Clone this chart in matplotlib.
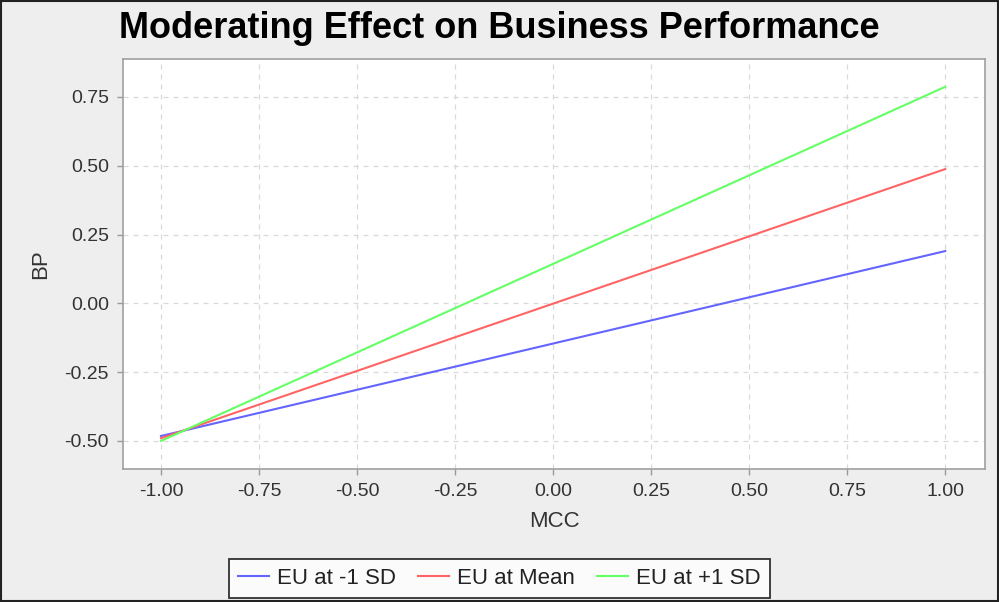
import matplotlib.pyplot as plt
import matplotlib.patches as patches
import numpy as np

plt.rcParams['font.family'] = ['Liberation Sans', 'DejaVu Sans']

# data
mcc = [-1.0, 1.0]
eu_low = [-0.482, 0.190]
eu_mean = [-0.490, 0.488]
eu_high = [-0.500, 0.787]
labels = ["EU at -1 SD", "EU at Mean", "EU at +1 SD"]
colors = ["#6464ff", "#ff6464", "#64ff64"]

xticks = [-1.0, -0.75, -0.5, -0.25, 0.0, 0.25, 0.5, 0.75, 1.0]
yticks = [-0.5, -0.25, 0.0, 0.25, 0.5, 0.75]

fig = plt.figure(figsize=(9.99, 6.02), dpi=100)
fig.patch.set_facecolor("#eeeeee")
fig.patches.append(patches.Rectangle((0.001, 0.001), 0.998, 0.997, transform=fig.transFigure,
                                     fill=False, edgecolor="#222222", linewidth=1.5))

ax = fig.add_axes([0.1231, 0.2209, 0.8631, 0.6811])
ax.set_facecolor("white")

for ys, lab, c in zip([eu_low, eu_mean, eu_high], labels, colors):
    ax.plot(mcc, ys, color=c, linewidth=1.5, label=lab)

ax.set_xlim(-1.097, 1.102)
ax.set_ylim(-0.602, 0.888)
ax.set_xticks(xticks)
ax.set_yticks(yticks)
ax.set_xticklabels(["%.2f" % v for v in xticks])
ax.set_yticklabels(["%.2f" % v for v in yticks])
ax.tick_params(colors="#999999", labelcolor="#333333", labelsize=14, length=4, width=1, pad=6)
ax.grid(True, color="#d9d9d9", linestyle=(0, (4, 4)), linewidth=0.9)
ax.set_axisbelow(True)
for s in ax.spines.values():
    s.set_color("#a0a0a0")
    s.set_linewidth(1.2)

ax.set_xlabel("MCC", fontsize=16, color="#333333", labelpad=8)
ax.set_ylabel("BP", fontsize=16, color="#333333", labelpad=10)

fig.text(0.5, 0.953, "Moderating Effect on Business Performance", ha="center", va="center",
         fontsize=26, fontweight="bold", color="black")

leg = fig.legend(loc="center", bbox_to_anchor=(0.5, 0.039), ncol=3, fontsize=16,
                 frameon=True, fancybox=False, edgecolor="black", handlelength=1.4,
                 columnspacing=1.0, handletextpad=0.35, borderpad=0.4, borderaxespad=0)
leg.get_frame().set_linewidth(1.3)
for t in leg.get_texts():
    t.set_color("#222222")

plt.savefig("out.png", dpi=100, facecolor=fig.get_facecolor())
